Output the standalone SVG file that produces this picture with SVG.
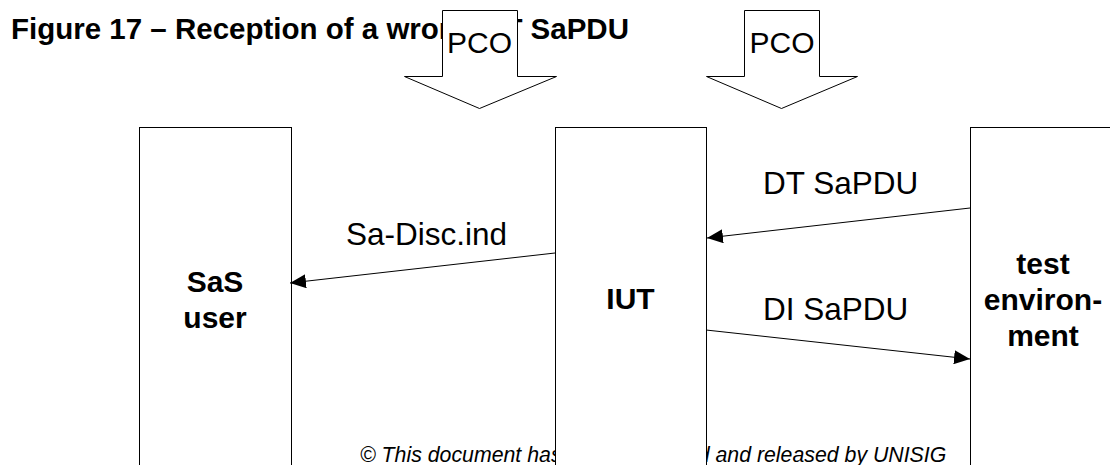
<svg xmlns="http://www.w3.org/2000/svg" width="1110" height="465" viewBox="0 0 1110 465">
<defs>
<style>
.box{fill:#fff;stroke:#000;stroke-width:1}
.pco{fill:#fff;stroke:#000;stroke-width:1}
.conn{stroke:#000;stroke-width:1;fill:none}
.lbl{font-family:"Liberation Sans",Arial,sans-serif;font-size:31.5px;fill:#000}
.blbl{font-family:"Liberation Sans",Arial,sans-serif;font-size:30px;font-weight:bold;fill:#000;text-anchor:middle}
.pcot{font-family:"Liberation Sans",Arial,sans-serif;font-size:30px;fill:#000;text-anchor:middle}
.title{font-family:"Liberation Sans",Arial,sans-serif;font-size:29.5px;font-weight:bold;fill:#000}
.copy{font-family:"Liberation Sans",Arial,sans-serif;font-size:21.3px;font-style:italic;fill:#000}
</style>
<marker id="ah" viewBox="0 0 16 14" refX="16" refY="7" markerWidth="16" markerHeight="14" markerUnits="userSpaceOnUse" orient="auto">
<path d="M0,0 L16,7 L0,14 z" fill="#000"/>
</marker>
</defs>
<rect width="1110" height="465" fill="#fff"/>
<text class="title" x="11" y="39">Figure 17 – Reception of a wrong DT SaPDU</text>
<text class="copy" x="360" y="462">© This document has been approved and released by UNISIG</text>
<g id="pco1">
<path class="pco" d="M442.5,10.5 L517.5,10.5 L517.5,76.5 L556.5,76.5 L479.5,108.5 L404.5,76.5 L442.5,76.5 Z"/>
<text class="pcot" x="479.5" y="53">PCO</text>
</g>
<g id="pco2">
<path class="pco" d="M744.5,10.5 L819.5,10.5 L819.5,76.5 L857.5,76.5 L781.5,108.5 L706.5,76.5 L744.5,76.5 Z"/>
<text class="pcot" x="782" y="53">PCO</text>
</g>
<g id="sas-user">
<rect class="box" x="139.5" y="127.5" width="152" height="360"/>
<text class="blbl" x="215" y="292">SaS</text>
<text class="blbl" x="215" y="328">user</text>
</g>
<g id="iut">
<rect class="box" x="555.5" y="127.5" width="151" height="360"/>
<text class="blbl" x="630.5" y="309">IUT</text>
</g>
<g id="test-env">
<rect class="box" x="970.5" y="127.5" width="151" height="360"/>
<text class="blbl" x="1043" y="274">test</text>
<text class="blbl" x="1043" y="310">environ-</text>
<text class="blbl" x="1043" y="346">ment</text>
</g>
<g id="connectors">
<line class="conn" x1="555" y1="253" x2="290" y2="283" marker-end="url(#ah)"/>
<line class="conn" x1="970" y1="208" x2="707" y2="238" marker-end="url(#ah)"/>
<line class="conn" x1="706" y1="330" x2="970" y2="359" marker-end="url(#ah)"/>
<text class="lbl" x="346" y="245">Sa-Disc.ind</text>
<text class="lbl" x="763" y="194">DT SaPDU</text>
<text class="lbl" x="763" y="320">DI SaPDU</text>
</g>
</svg>
